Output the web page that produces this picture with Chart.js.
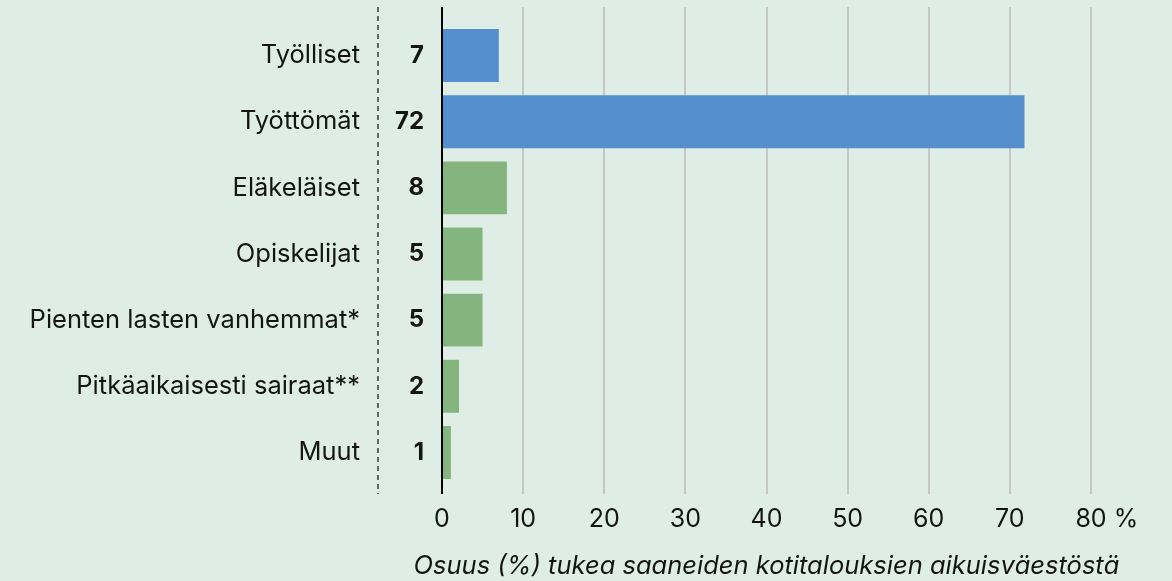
<!DOCTYPE html>
<html>
<head>
<meta charset="utf-8">
<script src="https://cdn.jsdelivr.net/npm/chart.js@4"></script>
<style>
  html, body { margin: 0; padding: 0; background: #deeee6; }
  canvas { display: block; }
</style>
</head>
<body>
<canvas id="ryhmat" width="1172" height="581"></canvas>
<script>
// Ryhmät ja osuudet (%)
const categories = ["Työlliset", "Työttömät", "Eläkeläiset", "Opiskelijat", "Pienten lasten vanhemmat*", "Pitkäaikaisesti sairaat**", "Muut"];
const shares = [7, 71.8, 8, 5, 5, 2.1, 1.1];
const valueLabels = ["7", "72", "8", "5", "5", "2", "1"];
const groups = ["työ", "työ", "muu", "muu", "muu", "muu", "muu"];
const xTicks = [0, 10, 20, 30, 40, 50, 60, 70, 80];
const xTitle = "Osuus (%) tukea saaneiden kotitalouksien aikuisväestöstä";

const BLUE = "#548ecd";
const GREEN = "#85b57e";
const TEXT = "#141414";
const FONT = "Inter";
const TICK_PAD = 18.5;

// Omat viivat ja tekstit
const extras = {
  id: "extras",
  beforeDatasetsDraw(chart) {
    const { ctx, chartArea, scales } = chart;
    const top = chartArea.top - 15.5;
    const bottom = chartArea.bottom + 8.5;
    ctx.save();
    // pystysuorat apuviivat
    ctx.strokeStyle = "#c3c8c4";
    ctx.lineWidth = 2;
    xTicks.forEach((t) => {
      if (t === 0) return;
      const x = Math.round(scales.x.getPixelForValue(t));
      ctx.beginPath();
      ctx.moveTo(x, top);
      ctx.lineTo(x, bottom);
      ctx.stroke();
    });
    // katkoviiva
    ctx.strokeStyle = "#3a3a3a";
    ctx.lineWidth = 1.5;
    ctx.setLineDash([5, 4]);
    ctx.beginPath();
    ctx.moveTo(378, top);
    ctx.lineTo(378, bottom);
    ctx.stroke();
    ctx.restore();
  },
  afterDatasetsDraw(chart) {
    const { ctx, chartArea, scales } = chart;
    const top = chartArea.top - 15.5;
    const bottom = chartArea.bottom + 8.5;
    ctx.save();
    // nollaviiva
    const x0 = scales.x.getPixelForValue(0);
    ctx.strokeStyle = "#000";
    ctx.lineWidth = 2;
    ctx.beginPath();
    ctx.moveTo(x0, top);
    ctx.lineTo(x0, bottom);
    ctx.stroke();

    // arvot
    ctx.fillStyle = TEXT;
    ctx.font = "bold 24px " + FONT;
    ctx.textAlign = "right";
    ctx.textBaseline = "middle";
    valueLabels.forEach((v, i) => {
      ctx.fillText(v, 424, scales.y.getPixelForValue(i));
    });

    // prosenttimerkki viimeisen tikin perään
    ctx.font = "25px " + FONT;
    ctx.textAlign = "left";
    const x80 = scales.x.getPixelForValue(80);
    const w = ctx.measureText("80").width;
    const tickY = scales.x.top + TICK_PAD + 15;
    ctx.fillText(" %", x80 + w / 2, tickY);

    // akselin otsikko
    ctx.font = "italic 25.5px " + FONT;
    ctx.textAlign = "center";
    ctx.fillText(xTitle, (chartArea.left + chartArea.right) / 2, 566);
    ctx.restore();
  },
};

new Chart(document.getElementById("ryhmat"), {
  type: "bar",
  data: {
    labels: categories,
    datasets: [
      {
        data: shares,
        backgroundColor: groups.map((g) => (g === "työ" ? BLUE : GREEN)),
        categoryPercentage: 1,
        barPercentage: 0.8,
      },
    ],
  },
  options: {
    indexAxis: "y",
    responsive: false,
    animation: false,
    layout: { padding: { top: 22.5, right: 81, bottom: 28.5, left: 0 } },
    plugins: {
      legend: { display: false },
      tooltip: { enabled: false },
    },
    scales: {
      x: {
        min: 0,
        max: 80,
        grid: { display: false, drawTicks: false },
        border: { display: false },
        ticks: {
          stepSize: 10,
          padding: TICK_PAD,
          maxRotation: 0,
          color: TEXT,
          font: { family: FONT, size: 25 },
        },
      },
      y: {
        grid: { display: false, drawTicks: false },
        border: { display: false },
        ticks: {
          padding: 82,
          color: TEXT,
          font: { family: FONT, size: 25.5 },
        },
        afterFit(scale) {
          scale.width = 442;
          scale.paddingTop = 0;
          scale.paddingBottom = 0;
        },
      },
    },
  },
  plugins: [extras],
});
</script>
</body>
</html>
